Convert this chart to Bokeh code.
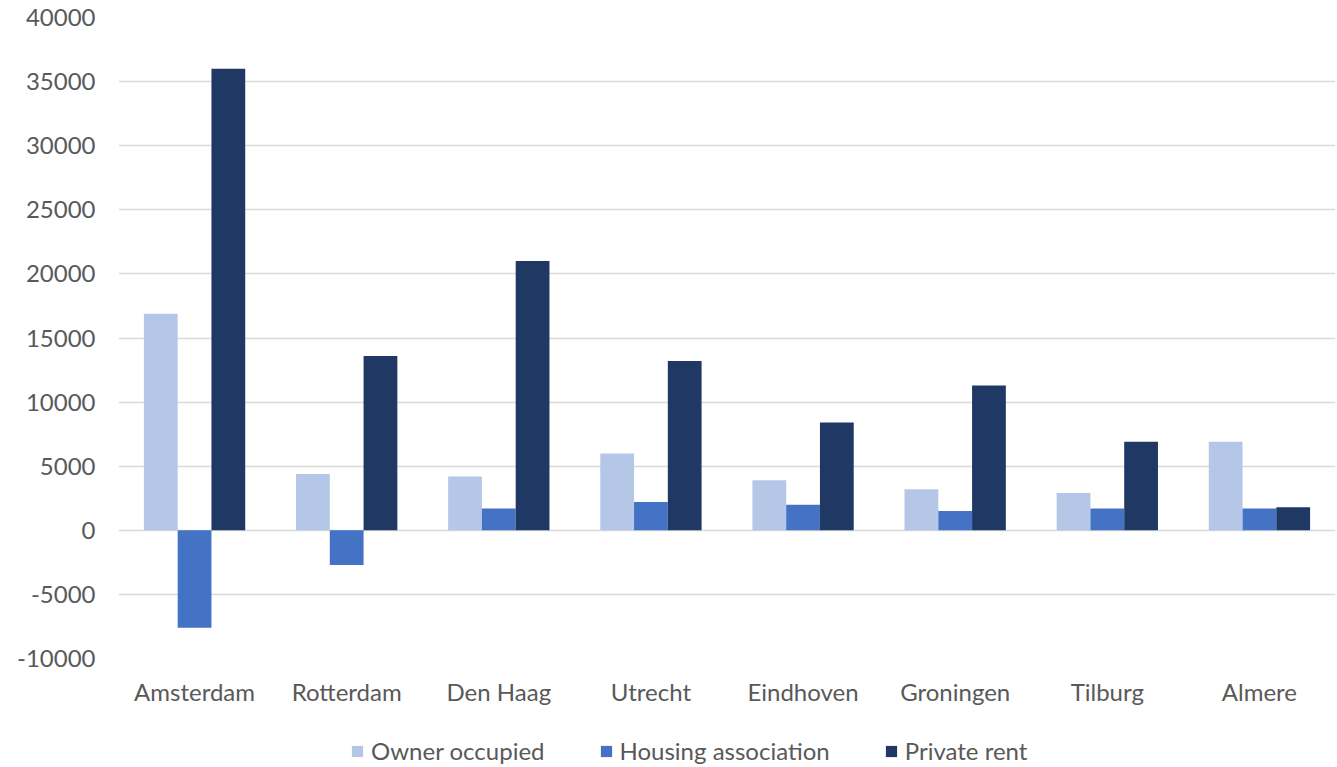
from bokeh.plotting import figure
from bokeh.layouts import column
from bokeh.models import ColumnDataSource, Legend, LegendItem, SingleIntervalTicker, NumeralTickFormatter
from bokeh.transform import dodge
from bokeh.embed import file_html
from bokeh.resources import INLINE

# Net change in dwellings per city, by tenure
cities = ["Amsterdam", "Rotterdam", "Den Haag", "Utrecht", "Eindhoven", "Groningen", "Tilburg", "Almere"]
owner_occupied = [16900, 4400, 4200, 6000, 3900, 3200, 2900, 6900]
housing_association = [-7600, -2700, 1700, 2200, 2000, 1500, 1700, 1700]
private_rent = [36000, 13600, 21000, 13200, 8400, 11300, 6900, 1800]
series_names = ["Owner occupied", "Housing association", "Private rent"]
series_colors = ["#B4C7E7", "#4472C4", "#203864"]

source = ColumnDataSource(dict(
    city=cities,
    owner=owner_occupied,
    housing=housing_association,
    private=private_rent,
))

FONT = "Lato"
TEXT_COLOR = "#595959"
FONT_SIZE = "24px"

p = figure(
    x_range=cities,
    y_range=(-10000, 40000),
    width=1337, height=713,
    output_backend="svg",
    toolbar_location=None,
    min_border_left=118, min_border_right=2,
    min_border_top=17, min_border_bottom=55,
)
p.outline_line_color = None
p.background_fill_color = "white"
p.border_fill_color = "white"

bar_w = 0.222
for col, off, color in zip(["owner", "housing", "private"], [-bar_w, 0.0, bar_w], series_colors):
    p.vbar(x=dodge("city", off, range=p.x_range), top=col, bottom=0, width=bar_w,
           source=source, fill_color=color, line_color=None)

# grid
p.xgrid.grid_line_color = None
p.ygrid.grid_line_color = "#D9D9D9"
p.ygrid.grid_line_width = 1.5

# y axis
p.yaxis.ticker = SingleIntervalTicker(interval=5000)
p.yaxis.formatter = NumeralTickFormatter(format="0")
p.yaxis.axis_line_color = None
p.yaxis.major_tick_line_color = None
p.yaxis.minor_tick_line_color = None
p.yaxis.major_label_text_font = FONT
p.yaxis.major_label_text_font_size = FONT_SIZE
p.yaxis.major_label_text_color = TEXT_COLOR
p.yaxis.major_label_standoff = 17

# x axis
p.xaxis.axis_line_color = None
p.xaxis.major_tick_line_color = None
p.xaxis.minor_tick_line_color = None
p.xaxis.major_label_text_font = FONT
p.xaxis.major_label_text_font_size = FONT_SIZE
p.xaxis.major_label_text_color = TEXT_COLOR
p.xaxis.major_label_standoff = 12

# legend strip under the chart; its swatch renderers are flat (zero-height) bars
# that only carry the series colours for the legend glyphs
leg = figure(
    width=1337, height=54,
    x_range=(0, 1), y_range=(0, 1),
    output_backend="svg",
    toolbar_location=None,
    min_border=0,
)
leg.outline_line_color = None
leg.axis.visible = False
leg.grid.visible = False
swatches = [leg.vbar(x=[0.5], top=[0], bottom=[0], width=0.01, fill_color=c, line_color=None)
            for c in series_colors]

legend = Legend(
    items=[LegendItem(label=n, renderers=[r]) for n, r in zip(series_names, swatches)],
    orientation="horizontal",
    location=(232, 2),
    label_text_font=FONT,
    label_text_font_size=FONT_SIZE,
    label_text_color=TEXT_COLOR,
    glyph_width=14, glyph_height=14,
    label_standoff=7,
    spacing=54,
    border_line_color=None,
    background_fill_alpha=0,
    padding=0, margin=0,
)
leg.add_layout(legend, "center")

layout = column(p, leg, spacing=0)
open("out.html", "w").write(file_html(layout, INLINE))
